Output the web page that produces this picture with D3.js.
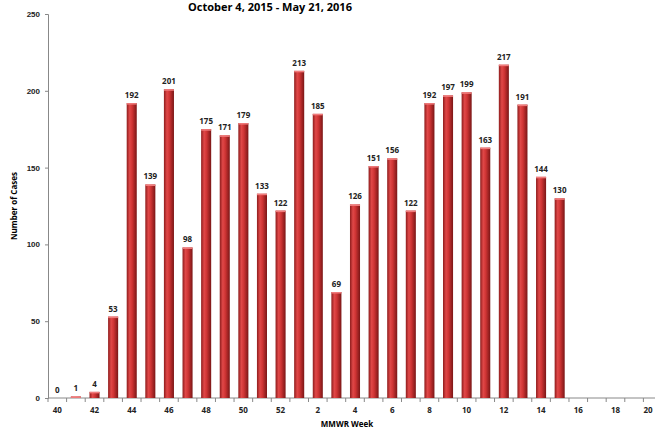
<!DOCTYPE html>
<html>
<head>
<meta charset="utf-8">
<script src="https://cdn.jsdelivr.net/npm/d3@7"></script>
<style>
  body { margin: 0; background: #fff; }
  svg { font-family: "Open Sans", "Liberation Sans", sans-serif; }
</style>
</head>
<body>
<svg id="chart" width="655" height="429"></svg>
<script>
// MMWR weeks, season 2015-16
const weeks = [40,41,42,43,44,45,46,47,48,49,50,51,52,1,2,3,4,5,6,7,8,9,10,11,12,13,14,15,16,17,18,19,20];
const cases = [0,1,4,53,192,139,201,98,175,171,179,133,122,213,185,69,126,151,156,122,192,197,199,163,217,191,144,130,null,null,null,null,null];
const yTicks = [0,50,100,150,200,250];
const titleText = 'October 4, 2015 - May 21, 2016';

const svg = d3.select('#chart');
const margin = {top: 14, left: 48};
const plotRight = 662, plotBottom = 398;

const x = d3.scaleBand()
    .domain(weeks.map(String))
    .range([margin.left, plotRight])
    .paddingInner(0.46)
    .paddingOuter(0.23);

const y = d3.scaleLinear().domain([0, 250]).range([plotBottom, margin.top]);

// bar gradient (cylinder look)
const defs = svg.append('defs');
const grad = defs.append('linearGradient').attr('id', 'barGrad')
    .attr('x1', '0%').attr('x2', '100%').attr('y1', '0%').attr('y2', '0%');
grad.append('stop').attr('offset', '0%').attr('stop-color', '#8e1c1c');
grad.append('stop').attr('offset', '30%').attr('stop-color', '#e04848');
grad.append('stop').attr('offset', '55%').attr('stop-color', '#cf3434');
grad.append('stop').attr('offset', '100%').attr('stop-color', '#7a1616');

// title
svg.append('text')
    .attr('x', 270).attr('y', 11)
    .attr('text-anchor', 'middle')
    .style('font-size', '11px').style('font-weight', 'bold')
    .text(titleText);

// y axis
const yAxis = svg.append('g')
    .attr('transform', 'translate(' + margin.left + ',0)')
    .call(d3.axisLeft(y).tickValues(yTicks).tickSize(3).tickPadding(5));
yAxis.selectAll('text').style('font-size', '8px').style('font-weight', 'bold').attr('fill', '#222');

// x axis: ticks at every category boundary, labels every other week
const bounds = weeks.map(w => x(String(w)) - x.step() * x.paddingInner() / 2);
const xg = svg.append('g');
xg.append('line')
    .attr('x1', margin.left).attr('x2', plotRight)
    .attr('y1', plotBottom).attr('y2', plotBottom)
    .attr('stroke', '#888');
xg.selectAll('.tk').data(bounds).enter().append('line')
    .attr('x1', d => d).attr('x2', d => d)
    .attr('y1', plotBottom).attr('y2', plotBottom + 4)
    .attr('stroke', '#888');
const labelWeeks = weeks.filter((w, i) => i % 2 === 0);
xg.selectAll('.lbl').data(labelWeeks).enter().append('text')
    .attr('x', d => Math.min(x(String(d)) + x.bandwidth() / 2, 654))
    .attr('y', plotBottom + 15)
    .attr('text-anchor', (d, i) => i === labelWeeks.length - 1 ? 'end' : 'middle')
    .style('font-size', '8px').style('font-weight', 'bold').attr('fill', '#222')
    .text(d => d);

yAxis.select('.domain').attr('stroke', '#888');
yAxis.selectAll('.tick line').attr('stroke', '#888');

// bars
const data = weeks.map((w, i) => ({week: String(w), n: cases[i]})).filter(d => d.n !== null);

svg.selectAll('.bar').data(data).enter().append('rect')
    .attr('class', 'bar')
    .attr('x', d => x(d.week))
    .attr('y', d => y(d.n))
    .attr('width', x.bandwidth())
    .attr('height', d => plotBottom - y(d.n))
    .attr('fill', 'url(#barGrad)');

svg.selectAll('.cap').data(data.filter(d => d.n > 0)).enter().append('rect')
    .attr('x', d => x(d.week))
    .attr('y', d => y(d.n))
    .attr('width', x.bandwidth())
    .attr('height', 1.5)
    .attr('fill', '#f07c7c');

svg.selectAll('.val').data(data).enter().append('text')
    .attr('x', d => x(d.week) + x.bandwidth() / 2)
    .attr('y', d => y(d.n) - 5)
    .attr('text-anchor', 'middle')
    .style('font-size', '8px').style('font-weight', 'bold').attr('fill', '#222')
    .text(d => d.n);

// axis titles
svg.append('text')
    .attr('transform', 'translate(17,' + ((margin.top + plotBottom) / 2) + ') rotate(-90)')
    .attr('text-anchor', 'middle')
    .style('font-size', '8px').style('font-weight', 'bold')
    .text('Number of Cases');

svg.append('text')
    .attr('x', 347).attr('y', 427)
    .attr('text-anchor', 'middle')
    .style('font-size', '8px').style('font-weight', 'bold')
    .text('MMWR Week');
</script>
</body>
</html>
